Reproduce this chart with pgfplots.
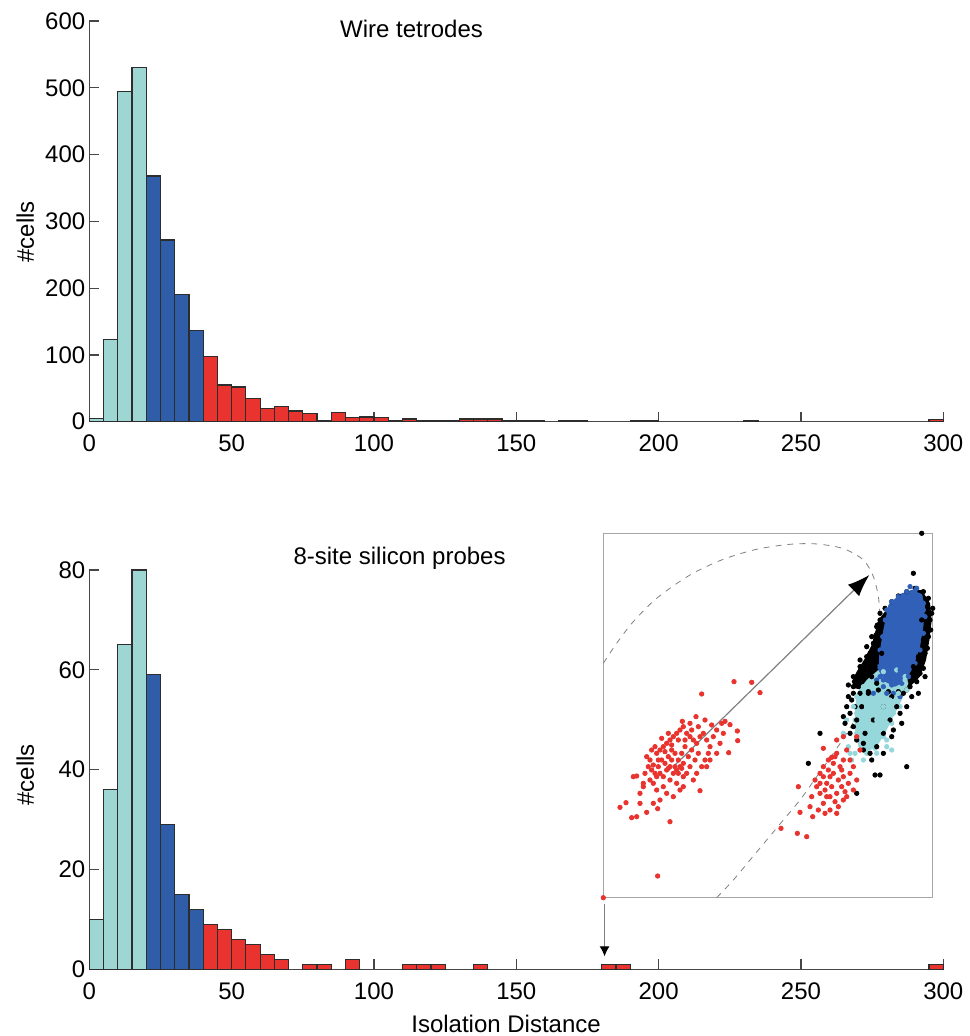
\documentclass[border=0pt]{standalone}
\usepackage{fontspec}
\setmainfont{Liberation Sans}
\usepackage{pgfplots}
\pgfplotsset{compat=1.18}
\usetikzlibrary{arrows.meta}
\definecolor{lcyan}{RGB}{158,214,212}
\definecolor{dblue}{RGB}{47,93,168}
\definecolor{hred}{RGB}{232,51,46}
\definecolor{edge}{RGB}{45,45,45}
\definecolor{axgray}{RGB}{70,70,70}
\definecolor{sblue}{RGB}{48,96,184}
\definecolor{scyan}{RGB}{150,215,220}

\pgfplotsset{
  histo/.style={
    anchor=south west, scale only axis, width=427pt,
    xmin=0, xmax=300, ymin=0, enlargelimits=false,
    axis lines=left, axis line style={-, draw=axgray, line width=0.6pt},
    tick align=inside, major tick length=5pt,
    tick style={axgray, line width=0.6pt},
    xtick={0,50,...,300},
    tick label style={font=\fontsize{12}{14}\selectfont},
    xticklabel style={yshift=-3pt},
    yticklabel style={xshift=1.5pt},
    /pgf/number format/assume math mode=true,
    clip=false,
  },
  bin/.style={ybar, bar width=5, bar shift=0pt, draw=edge, line width=0.6pt},
  dots/.style={only marks, mark=*, mark size=1.1pt},
}

\begin{document}
\begin{tikzpicture}
\useasboundingbox (0,0) rectangle (484.5pt,518pt);

% top: wire tetrodes
\begin{axis}[histo, at={(44.65pt,307.15pt)}, height=200.35pt,
  ymax=600, ytick={0,100,...,600},
  ylabel={\#cells},
  every axis y label/.style={at={(axis description cs:-0.075,0.474)}, rotate=90, anchor=center, font=\fontsize{12}{14}\selectfont},
]
\addplot[bin, fill=lcyan] coordinates {(2.5,5) (7.5,123) (12.5,494) (17.5,530)};
\addplot[bin, fill=dblue] coordinates {(22.5,368) (27.5,272) (32.5,190) (37.5,136)};
\addplot[bin, fill=hred] coordinates {
  (42.5,98) (47.5,55) (52.5,52) (57.5,35) (62.5,20) (67.5,23) (72.5,16) (77.5,12)
  (82.5,2) (87.5,14) (92.5,6) (97.5,7) (102.5,6) (107.5,2) (112.5,4) (117.5,2)
  (122.5,1) (127.5,2) (132.5,4) (137.5,4) (142.5,4) (147.5,1) (152.5,1) (157.5,1)
  (167.5,1) (172.5,1) (192.5,1) (197.5,1) (232.5,1) (297.5,3)};
\node[anchor=base, font=\fontsize{12}{14}\selectfont] at (axis cs:113.2,575) {Wire tetrodes};
\end{axis}

% bottom: silicon probes
\begin{axis}[histo, at={(44.65pt,33.35pt)}, height=199.65pt,
  ymax=80, ytick={0,20,...,80},
  ylabel={\#cells}, xlabel={Isolation Distance},
  every axis y label/.style={at={(axis description cs:-0.075,0.487)}, rotate=90, anchor=center, font=\fontsize{12}{14}\selectfont},
  every axis x label/.style={at={(axis description cs:0.488,0)}, anchor=base, yshift=-31.85pt, font=\fontsize{12}{14}\selectfont},
]
\addplot[bin, fill=lcyan] coordinates {(2.5,10) (7.5,36) (12.5,65) (17.5,80)};
\addplot[bin, fill=dblue] coordinates {(22.5,59) (27.5,29) (32.5,15) (37.5,12)};
\addplot[bin, fill=hred] coordinates {
  (42.5,9) (47.5,8) (52.5,6) (57.5,5) (62.5,3) (67.5,2) (77.5,1) (82.5,1)
  (92.5,2) (112.5,1) (117.5,1) (122.5,1) (137.5,1) (182.5,1) (187.5,1) (297.5,1)};
\node[anchor=base, font=\fontsize{12}{14}\selectfont] at (axis cs:109,81.2) {8-site silicon probes};
\draw[gray, line width=0.5pt, -{Latex[length=5pt,width=5pt,black]}] (axis cs:181,13) -- (axis cs:181,2.6);
\end{axis}

% inset: feature-space projection
\begin{axis}[at={(301.65pt,69.15pt)}, anchor=south west, scale only axis,
  width=164.7pt, height=182.2pt,
  xmin=40, xmax=1028, ymin=40, ymax=1133, y dir=reverse,
  xtick=\empty, ytick=\empty,
  axis line style={draw=gray!70, line width=0.5pt},
  clip=false,
]
% dashed contour
\addplot[gray, dashed, line width=0.4pt, smooth] coordinates {
  (40,430) (80,370) (130,305) (200,235) (300,165) (400,118) (500,88) (600,73)
  (680,72) (760,86) (820,120) (850,170) (865,230) (870,290)};
\addplot[gray, dashed, line width=0.4pt, smooth] coordinates {
  (380,1133) (430,1080) (480,1020) (530,960) (580,900) (630,840) (680,770) (730,700) (770,640) (800,590)};
% dense cluster areas
\addplot[fill=black, draw=none] coordinates {
  (865,300) (895,262) (930,232) (960,212) (995,210) (1020,250) (1025,300) (1018,360)
  (1008,420) (990,470) (965,495) (940,505) (910,510) (880,500) (850,505) (820,510)
  (795,505) (785,485) (800,455) (825,415) (845,375)} -- cycle;
\addplot[dots, black] coordinates {
  (870,280) (885,265) (905,245) (925,228) (950,215) (975,205) (1000,215) (1015,235)
  (1028,265) (1022,330) (1012,385) (1000,445) (980,485) (950,510) (925,515) (895,515)
  (865,510) (835,515) (810,520) (790,520) (775,495) (790,470) (810,440) (830,410)
  (850,385) (858,345) (862,315) (775,530) (770,560) (795,560) (760,590) (780,640)
  (820,670) (845,720) (880,700) (905,650) (935,610) (950,560) (965,530) (1005,470)};
\addplot[fill=scyan, draw=none] coordinates {
  (800,520) (830,480) (865,450) (905,440) (940,450) (955,490) (935,540) (910,590)
  (885,640) (860,680) (830,695) (805,680) (795,630) (795,570)} -- cycle;
\addplot[dots, scyan] coordinates {
  (800,530) (820,500) (850,470) (880,455) (920,450) (945,470) (950,510) (930,560)
  (905,610) (880,650) (855,685) (830,700) (810,690) (800,650) (795,600) (790,560)
  (770,600) (760,640) (785,720) (820,720) (860,700) (890,660)};
\addplot[fill=sblue, draw=none] coordinates {
  (895,255) (930,222) (965,210) (995,222) (1005,260) (1000,320) (990,380) (970,440)
  (945,485) (915,500) (885,485) (865,450) (868,400) (880,330)} -- cycle;
\addplot[dots, sblue] coordinates {
  (890,270) (905,245) (925,230) (950,215) (975,212) (990,230) (1000,250) (1005,290)
  (1000,340) (990,390) (975,430) (955,470) (935,490) (905,495) (880,480) (868,440)
  (870,390) (878,350) (885,300) (860,480) (890,520) (930,530)
  (960,200) (980,205) (940,230) (915,250) (900,280) (985,260) (1000,270) (950,350)
  (920,400) (890,430) (870,470) (900,470) (930,450) (960,420) (880,500) (850,520)
  (910,520) (955,470)};
% scattered points
\addplot[dots, black] coordinates {
  (790,500) (785,540) (780,580) (800,470) (820,440) (840,400) (850,370) (830,380)
  (810,420) (800,600) (765,610) (690,640) (655,730) (855,765) (870,765) (950,740)
  (800,820) (985,520) (970,160) (1025,280) (1015,350) (1005,400) (990,440) (975,470)
  (960,500) (940,520) (920,560) (900,600) (880,640) (860,680) (840,700) (820,690)
  (800,660) (790,620) (815,560) (835,520) (860,490) (905,530) (880,560) (850,600)
  (825,640) (910,630) (930,580) (870,300) (860,320) (845,350) (995,300) (1010,320)
  (1000,360) (985,410) (970,440) (855,440) (845,470) (875,400) (990,460) (1020,300)};
\addplot[dots, scyan] coordinates {
  (800,580) (820,600) (840,620) (860,600) (880,560) (900,540) (850,650) (870,630)
  (890,610) (910,580) (830,560) (815,620) (800,640) (860,560) (840,540) (890,680)
  (905,690) (925,520) (945,480) (780,700) (795,700) (775,680)};
% red clusters
\addplot[dots, hred] coordinates {
  (432,485) (485,487) (510,518) (335,522) (318,590) (277,604) (300,610) (405,604)
  (420,614) (442,633) (443,662) (416,698) (185,690) (130,770) (140,768) (90,862)
  (108,848) (125,893) (140,890) (170,877) (203,866) (240,905) (203,1068) (330,812)
  (150,820) (160,800)
  (200,700) (210,690) (220,680) (230,670) (240,660) (250,650) (260,640) (270,630)
  (280,620) (290,640) (300,650) (310,660) (320,670) (330,650) (340,640) (350,660)
  (360,680) (370,650) (380,630) (390,670) (355,700) (345,720) (335,740) (325,700)
  (315,720) (305,690) (295,710) (285,680) (275,700) (265,720) (255,700) (245,690)
  (235,710) (225,730) (215,720) (205,740) (195,760) (185,750) (175,740) (165,760)
  (180,780) (190,790) (200,770) (210,760) (220,770) (230,750) (240,740) (250,760)
  (260,750) (270,740) (280,730) (290,760) (300,740) (310,780) (280,770) (260,790)
  (240,780) (220,800) (230,820) (200,810) (270,810) (250,830) (180,720) (170,710)
  (195,680) (215,655) (235,640) (265,660) (285,660) (245,720) (255,740) (265,760)
  (275,745) (235,745) (225,695) (205,720) (190,735) (245,675) (305,630) (325,620)
  (345,600) (365,615) (380,700) (400,640) (395,610) (160,790) (150,850) (210,840)
  (190,850) (280,800) (320,760) (350,740) (360,720)
  (700,685) (725,712) (740,700) (780,720) (790,740) (800,780) (790,810) (770,830)
  (745,860) (720,870) (700,850) (690,820) (680,800) (700,770) (715,750) (730,760)
  (750,740) (760,770) (775,790) (755,800) (740,820) (725,800) (710,790) (705,810)
  (720,830) (735,845) (760,840) (745,780) (730,730) (715,720) (690,760) (675,780)
  (665,830) (625,800) (630,877) (668,890) (650,950) (622,940) (573,925) (660,860)
  (685,870) (705,880) (740,880) (710,830) (765,815) (780,760) (755,750) (700,740)
  (720,770) (690,790) (760,720) (735,710) (810,690) (770,690) (800,650) (760,650)
  (740,660) (40,1133)};
\addplot[dots, black] coordinates {(995,40)};
% projection arrow
\addplot[gray, line width=0.6pt, -{Latex[length=11pt,width=8pt,black]}] coordinates {(255,735) (838,165)};
\end{axis}
\end{tikzpicture}
\end{document}
